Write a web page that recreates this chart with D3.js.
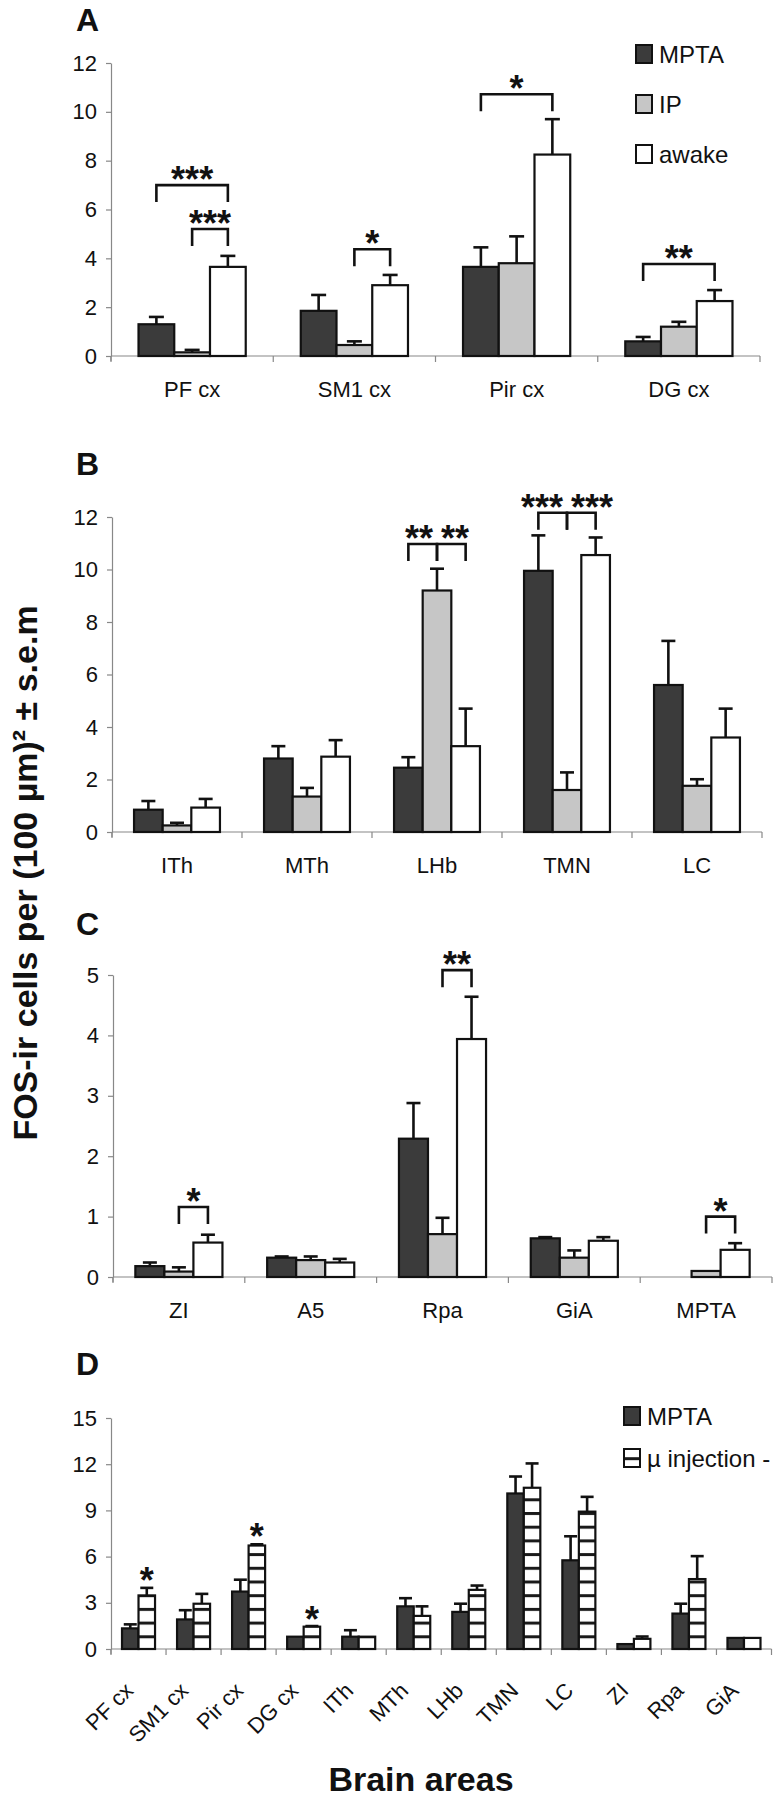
<!DOCTYPE html>
<html>
<head>
<meta charset="utf-8">
<script src="https://cdn.jsdelivr.net/npm/d3@7"></script>
<style>
  html, body { margin: 0; padding: 0; background: #fff; }
  svg { display: block; }
  text { font-family: "Liberation Sans", Arial, Helvetica, sans-serif; }
</style>
</head>
<body>
<svg id="chart" width="775" height="1800"></svg>
<script>
// ---------------- DATA ----------------
const seriesABC = ["MPTA", "IP", "awake"];
const seriesD = ["MPTA", "µ injection -"];

// Panel A
const catsA = ["PF cx", "SM1 cx", "Pir cx", "DG cx"];
const mptaA = [1.3, 1.85, 3.65, 0.6];
const mptaA_sem = [0.3, 0.65, 0.8, 0.18];
const ipA = [0.15, 0.45, 3.8, 1.2];
const ipA_sem = [0.1, 0.15, 1.1, 0.2];
const awakeA = [3.65, 2.9, 8.25, 2.25];
const awakeA_sem = [0.45, 0.42, 1.45, 0.45];
const ticksA = [0, 2, 4, 6, 8, 10, 12];
const sigA = [
  { cat: "PF cx", from: 0, to: 2, label: "***", level: 7.0 },
  { cat: "PF cx", from: 1, to: 2, label: "***", level: 5.2 },
  { cat: "SM1 cx", from: 1, to: 2, label: "*", level: 4.37 },
  { cat: "Pir cx", from: 0, to: 2, label: "*", level: 10.72 },
  { cat: "DG cx", from: 0, to: 2, label: "**", level: 3.77 }
];

// Panel B
const catsB = ["ITh", "MTh", "LHb", "TMN", "LC"];
const mptaB = [0.85, 2.8, 2.45, 9.95, 5.6];
const mptaB_sem = [0.33, 0.47, 0.4, 1.35, 1.68];
const ipB = [0.25, 1.35, 9.2, 1.6, 1.76];
const ipB_sem = [0.1, 0.33, 0.83, 0.67, 0.25];
const awakeB = [0.93, 2.87, 3.27, 10.55, 3.6];
const awakeB_sem = [0.33, 0.63, 1.43, 0.67, 1.1];
const ticksB = [0, 2, 4, 6, 8, 10, 12];
const sigB = [
  { cat: "LHb", from: 0, to: 1, label: "**", level: 10.97 },
  { cat: "LHb", from: 1, to: 2, label: "**", level: 10.97 },
  { cat: "TMN", from: 0, to: 1, label: "***", level: 12.16 },
  { cat: "TMN", from: 1, to: 2, label: "***", level: 12.16 }
];

// Panel C
const catsC = ["ZI", "A5", "Rpa", "GiA", "MPTA"];
const mptaC = [0.18, 0.32, 2.29, 0.64, null];
const mptaC_sem = [0.06, 0.02, 0.59, 0.02, 0];
const ipC = [0.09, 0.28, 0.71, 0.32, 0.1];
const ipC_sem = [0.07, 0.06, 0.27, 0.12, 0];
const awakeC = [0.57, 0.24, 3.94, 0.6, 0.45];
const awakeC_sem = [0.13, 0.06, 0.7, 0.06, 0.11];
const ticksC = [0, 1, 2, 3, 4, 5];
const sigC = [
  { cat: "ZI", from: 1, to: 2, label: "*", level: 1.16 },
  { cat: "Rpa", from: 1, to: 2, label: "**", level: 5.08 },
  { cat: "MPTA", from: 1, to: 2, label: "*", level: 1.0 }
];

// Panel D
const catsD = ["PF cx", "SM1 cx", "Pir cx", "DG cx", "ITh", "MTh", "LHb", "TMN", "LC", "ZI", "Rpa", "GiA"];
const mptaD = [1.34, 1.92, 3.73, 0.8, 0.8, 2.77, 2.41, 10.1, 5.76, 0.32, 2.3, 0.72];
const mptaD_sem = [0.26, 0.6, 0.77, 0, 0.42, 0.53, 0.53, 1.1, 1.56, 0, 0.64, 0];
const muD = [3.48, 2.94, 6.72, 1.45, 0.8, 2.15, 3.84, 10.47, 8.92, 0.66, 4.54, 0.72];
const muD_sem = [0.49, 0.64, 0.08, 0.04, 0, 0.62, 0.28, 1.58, 0.96, 0.15, 1.49, 0];
const ticksD = [0, 3, 6, 9, 12, 15];
const starsD = [
  { cat: "PF cx", series: 1, label: "*", level: 4.96 },
  { cat: "Pir cx", series: 1, label: "*", level: 7.76 },
  { cat: "DG cx", series: 1, label: "*", level: 2.41 }
];

const yTitle = "FOS-ir cells per (100 µm)² ± s.e.m";
const xTitle = "Brain areas";

// ---------------- DRAWING ----------------
const svg = d3.select("#chart");
svg.append("rect").attr("width", 775).attr("height", 1800).attr("fill", "#fff");

const defs = svg.append("defs");
const pat = defs.append("pattern")
  .attr("id", "stripes")
  .attr("patternUnits", "userSpaceOnUse")
  .attr("width", 40).attr("height", 13.7)
  .attr("y", 1649);
pat.append("rect").attr("width", 40).attr("height", 13.7).attr("fill", "#fff");
pat.append("rect").attr("y", 0).attr("width", 40).attr("height", 3).attr("fill", "#1a1a1a");

const fills = ["#3b3b3b", "#c6c6c6", "#ffffff"];
const AXIS_COLOR = "#888";
const FONT = '"Liberation Sans", Arial, sans-serif';

function drawPanel(cfg) {
  const g = svg.append("g");
  const x = d3.scaleBand().domain(cfg.cats).range([cfg.x0, cfg.x1]).padding(0);
  const xs = d3.scaleBand().domain(d3.range(cfg.series.length))
    .range([0, x.bandwidth()]).paddingInner(0).paddingOuter(cfg.pOuter);
  const y = d3.scaleLinear().domain([0, cfg.ymax]).range([cfg.y0, cfg.yTop]);

  // panel letter
  g.append("text").attr("x", 76).attr("y", cfg.letterY)
    .attr("font-size", 32).attr("font-weight", "bold").attr("fill", "#111").text(cfg.letter);

  // y axis
  const ya = g.append("g").attr("transform", `translate(${cfg.x0},0)`)
    .call(d3.axisLeft(y).tickValues(cfg.ticks).tickFormat(d3.format("d"))
      .tickSize(5).tickSizeOuter(0).tickPadding(9));
  ya.select(".domain").attr("stroke", AXIS_COLOR).attr("stroke-width", 1.2);
  ya.selectAll(".tick line").attr("stroke", AXIS_COLOR).attr("stroke-width", 1.2);
  ya.selectAll(".tick text").attr("font-size", 22).attr("fill", "#111").attr("font-family", FONT);
  g.append("line").attr("x1", cfg.x0).attr("x2", cfg.x0)
    .attr("y1", cfg.y0).attr("y2", cfg.y0 + 5).attr("stroke", AXIS_COLOR).attr("stroke-width", 1.2);

  // x axis line + boundary ticks
  g.append("line").attr("x1", cfg.x0).attr("x2", cfg.x1).attr("y1", cfg.y0).attr("y2", cfg.y0)
    .attr("stroke", AXIS_COLOR).attr("stroke-width", 1.2);
  const bounds = cfg.cats.map(c => x(c)).concat([cfg.x1]);
  g.selectAll(".bt").data(bounds).enter().append("line")
    .attr("x1", d => d).attr("x2", d => d).attr("y1", cfg.y0).attr("y2", cfg.y0 + 6)
    .attr("stroke", AXIS_COLOR).attr("stroke-width", 1.2);

  // category labels
  const xa = g.append("g").attr("transform", `translate(0,${cfg.y0})`)
    .call(d3.axisBottom(x).tickSize(0).tickPadding(0));
  xa.select(".domain").remove();
  const lbl = xa.selectAll(".tick text").attr("font-size", 22).attr("fill", "#111").attr("font-family", FONT);
  if (cfg.rotate) {
    lbl.attr("x", 0).attr("y", 0).attr("dy", 0)
      .attr("text-anchor", "end")
      .attr("transform", "translate(-4,43) rotate(-45)");
  } else {
    lbl.attr("y", 41).attr("dy", 0);
  }

  // bars
  cfg.series.forEach((s, si) => {
    const vals = cfg.values[si];
    const sems = cfg.sems[si];
    const fill = cfg.fills[si];
    const data = cfg.cats.map((c, i) => ({ c, v: vals[i], e: sems[i] })).filter(d => d.v != null);
    g.selectAll(".bar" + si).data(data).enter().append("rect")
      .attr("x", d => x(d.c) + xs(si))
      .attr("y", d => y(d.v))
      .attr("width", xs.bandwidth())
      .attr("height", d => cfg.y0 - y(d.v))
      .attr("fill", fill)
      .attr("stroke", "#111").attr("stroke-width", 2.2);
    const eb = data.filter(d => d.e > 0);
    const cx = d => x(d.c) + xs(si) + xs.bandwidth() / 2;
    g.selectAll(".eb" + si).data(eb).enter().append("line")
      .attr("x1", cx).attr("x2", cx)
      .attr("y1", d => y(d.v)).attr("y2", d => y(d.v + d.e))
      .attr("stroke", "#111").attr("stroke-width", 2.6);
    g.selectAll(".ec" + si).data(eb).enter().append("line")
      .attr("x1", d => cx(d) - cfg.cap / 2).attr("x2", d => cx(d) + cfg.cap / 2)
      .attr("y1", d => y(d.v + d.e)).attr("y2", d => y(d.v + d.e))
      .attr("stroke", "#111").attr("stroke-width", 2.6);
  });

  // significance brackets
  (cfg.sig || []).forEach(b => {
    const xa1 = x(b.cat) + xs(b.from) + xs.bandwidth() / 2;
    const xa2 = x(b.cat) + xs(b.to) + xs.bandwidth() / 2;
    const top = y(b.level);
    g.append("path")
      .attr("d", `M${xa1},${top + 17}V${top}H${xa2}V${top + 17}`)
      .attr("fill", "none").attr("stroke", "#111").attr("stroke-width", 2.6);
    const partnerRight = cfg.sig.find(o => o !== b && o.cat === b.cat && o.level === b.level && o.from === b.to);
    const partnerLeft = cfg.sig.find(o => o !== b && o.cat === b.cat && o.level === b.level && o.to === b.from);
    const t = g.append("text").attr("y", top - 13 + 20)
      .attr("font-size", 36).attr("font-weight", "bold").attr("fill", "#111").text(b.label);
    if (partnerRight) t.attr("x", xa2 - 4).attr("text-anchor", "end");
    else if (partnerLeft) t.attr("x", xa1 + 4).attr("text-anchor", "start");
    else t.attr("x", (xa1 + xa2) / 2).attr("text-anchor", "middle");
  });

  (cfg.stars || []).forEach(s => {
    const cx = x(s.cat) + xs(s.series) + xs.bandwidth() / 2;
    g.append("text").attr("x", cx).attr("y", y(s.level) + 20)
      .attr("text-anchor", "middle").attr("font-size", 36).attr("font-weight", "bold")
      .attr("fill", "#111").text(s.label);
  });

  // legend
  if (cfg.legend) {
    cfg.series.forEach((s, si) => {
      const ly = cfg.legend.y + si * cfg.legend.step;
      g.append("rect").attr("x", cfg.legend.x).attr("y", ly - 9)
        .attr("width", 16).attr("height", 18)
        .attr("fill", cfg.fills[si]).attr("stroke", "#111").attr("stroke-width", 2);
      g.append("text").attr("x", cfg.legend.x + 23).attr("y", ly + 9)
        .attr("font-size", 24).attr("fill", "#111").text(s);
    });
  }
}

drawPanel({
  letter: "A", letterY: 31,
  cats: catsA, series: seriesABC,
  values: [mptaA, ipA, awakeA], sems: [mptaA_sem, ipA_sem, awakeA_sem],
  fills: fills, x0: 111, x1: 760, y0: 356, yTop: 63, ymax: 12, ticks: ticksA,
  pOuter: 0.77, cap: 15, sig: sigA,
  legend: { x: 636, y: 54, step: 50 }
});

drawPanel({
  letter: "B", letterY: 475,
  cats: catsB, series: seriesABC,
  values: [mptaB, ipB, awakeB], sems: [mptaB_sem, ipB_sem, awakeB_sem],
  fills: fills, x0: 112, x1: 762, y0: 832, yTop: 517, ymax: 12, ticks: ticksB,
  pOuter: 0.77, cap: 14, sig: sigB
});

drawPanel({
  letter: "C", letterY: 935,
  cats: catsC, series: seriesABC,
  values: [mptaC, ipC, awakeC], sems: [mptaC_sem, ipC_sem, awakeC_sem],
  fills: fills, x0: 113, x1: 772, y0: 1277, yTop: 975, ymax: 5, ticks: ticksC,
  pOuter: 0.77, cap: 14, sig: sigC
});

drawPanel({
  letter: "D", letterY: 1375,
  cats: catsD, series: seriesD,
  values: [mptaD, muD], sems: [mptaD_sem, muD_sem],
  fills: ["#3b3b3b", "url(#stripes)"], x0: 111, x1: 771.5, y0: 1649, yTop: 1418, ymax: 15, ticks: ticksD,
  pOuter: 0.667, cap: 13, stars: starsD, rotate: true,
  legend: { x: 624, y: 1416, step: 42 }
});

// axis titles
svg.append("text")
  .attr("transform", "translate(37,873) rotate(-90)")
  .attr("text-anchor", "middle").attr("font-size", 34).attr("font-weight", "bold")
  .attr("fill", "#111").text(yTitle);

svg.append("text").attr("x", 421).attr("y", 1791)
  .attr("text-anchor", "middle").attr("font-size", 34).attr("font-weight", "bold")
  .attr("fill", "#111").text(xTitle);
</script>
</body>
</html>
